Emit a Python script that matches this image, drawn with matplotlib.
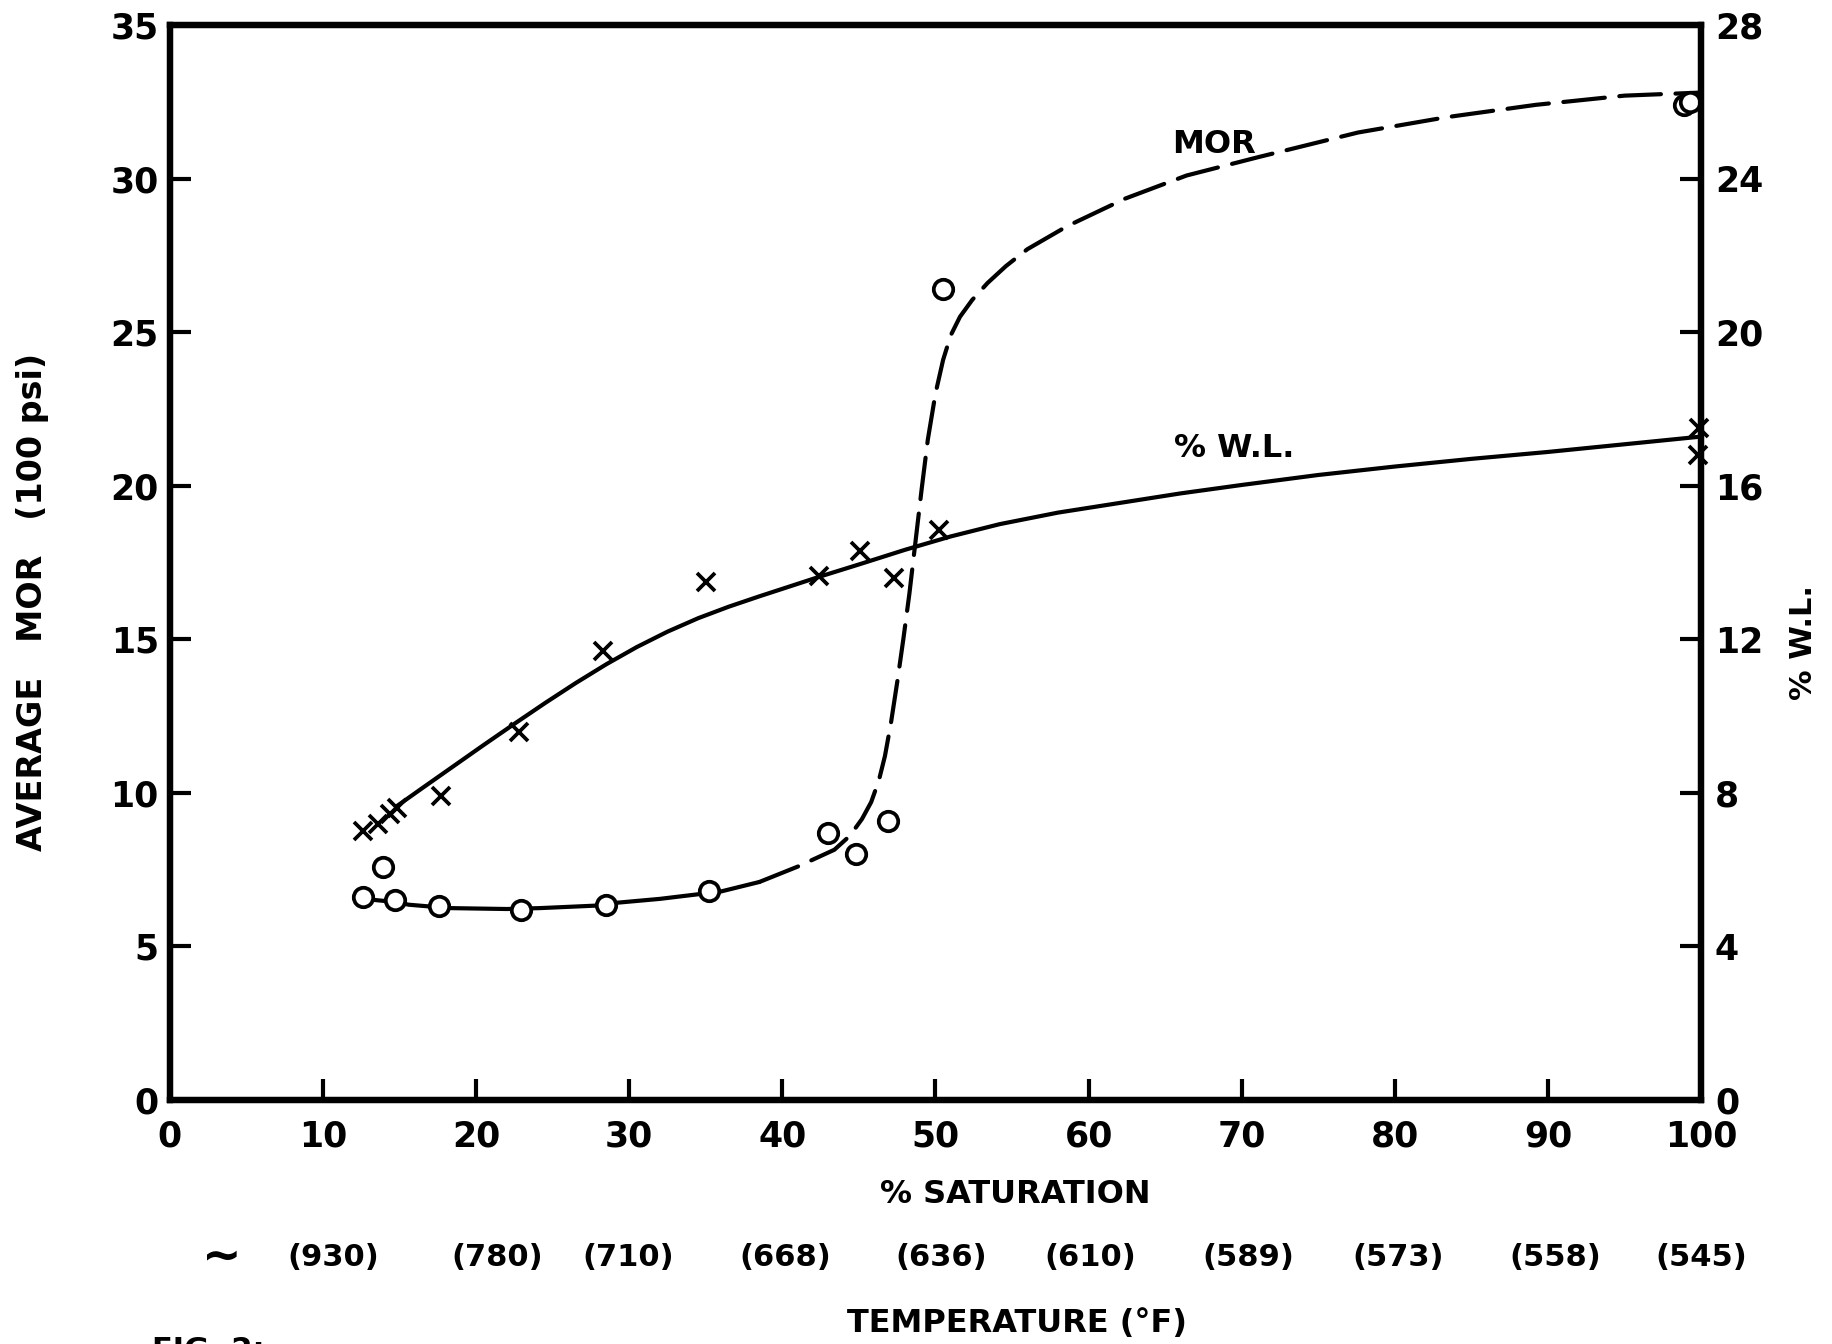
import matplotlib
matplotlib.use('Agg')
import matplotlib.pyplot as plt
import matplotlib.transforms as mtransforms

# MOR data points (open circles, left axis, 100 psi)
mor_x = [12.6, 13.9, 14.7, 17.6, 22.9, 28.5, 35.2, 43.0, 44.8, 46.9, 50.5, 98.9, 99.3]
mor_y = [6.6, 7.6, 6.5, 6.33, 6.2, 6.36, 6.8, 8.7, 8.0, 9.1, 26.4, 32.4, 32.5]

# % W.L. data points (crosses, right axis)
wl_x = [12.6, 13.6, 14.4, 14.8, 17.7, 22.8, 28.3, 35.0, 42.4, 45.1, 47.3, 50.2, 99.9, 99.8]
wl_y = [7.0, 7.2, 7.45, 7.6, 7.93, 9.58, 11.7, 13.5, 13.66, 14.3, 13.6, 14.85, 17.5, 16.8]

# hand drawn MOR curve, solid part then dashed part
mor_solid_x = [12.6, 14.7, 15.6, 18.2, 22.0, 24.2, 27.8, 29.1, 32.0, 34.5, 35.9, 38.5]
mor_solid_y = [6.55, 6.45, 6.36, 6.25, 6.22, 6.25, 6.33, 6.42, 6.55, 6.7, 6.78, 7.1]
mor_dash_x = [38.5, 41.0, 43.4, 44.4, 45.2, 45.8, 46.3, 46.7, 47.1, 47.5, 47.9, 48.3,
              48.7, 49.1, 49.5, 50.0, 50.5, 51.0, 51.6, 52.4, 53.4, 54.6, 56.0, 58.6,
              62.4, 66.4, 71.1, 77.6, 83.4, 89.2, 95.0, 100.0]
mor_dash_y = [7.1, 7.6, 8.15, 8.6, 9.15, 9.7, 10.4, 11.2, 12.3, 13.6, 15.0, 16.5,
              18.2, 19.9, 21.5, 23.0, 24.1, 24.9, 25.5, 26.05, 26.6, 27.15, 27.7, 28.45,
              29.35, 30.1, 30.7, 31.5, 32.0, 32.4, 32.7, 32.8]

# hand drawn % W.L. curve
wl_curve_x = [14.8, 16.5, 18.5, 20.5, 22.5, 24.5, 26.5, 28.5, 30.5, 32.5, 34.5, 36.5,
              38.5, 40.5, 42.5, 45.0, 48.0, 51.0, 54.2, 58.0, 62.0, 66.0, 70.0, 75.0,
              80.0, 85.0, 90.0, 95.0, 100.0]
wl_curve_y = [7.65, 8.13, 8.69, 9.25, 9.8, 10.34, 10.86, 11.35, 11.8, 12.2, 12.55, 12.85,
              13.12, 13.38, 13.64, 13.95, 14.33, 14.68, 15.0, 15.3, 15.55, 15.8, 16.02, 16.28,
              16.5, 16.7, 16.88, 17.08, 17.28]

# temperature labels under the saturation axis
temp_x = [10.7, 21.4, 29.9, 40.2, 50.4, 60.1, 70.4, 80.2, 90.5, 100.0]
temp_labels = ['(930)', '(780)', '(710)', '(668)', '(636)', '(610)', '(589)', '(573)', '(558)', '(545)']

plt.rcParams['font.family'] = ['DejaVu Sans']
plt.rcParams['font.weight'] = 'bold'

fig = plt.figure(figsize=(18.33, 13.44), dpi=100)
ax = fig.add_axes([0.0927, 0.1815, 0.8353, 0.7999])
ax2 = ax.twinx()

lw = 3.0
ax.plot(mor_solid_x, mor_solid_y, color='black', lw=lw, solid_capstyle='round',
        solid_joinstyle='round', zorder=2)
ax.plot(mor_dash_x, mor_dash_y, color='black', lw=lw, linestyle=(0, (10, 3.5)),
        dash_capstyle='round', dash_joinstyle='round', zorder=2)
ax.plot(mor_x, mor_y, linestyle='none', marker='o', markersize=14, markeredgewidth=2.7,
        markerfacecolor='white', markeredgecolor='black', zorder=4, clip_on=False)

ax2.plot(wl_curve_x, wl_curve_y, color='black', lw=lw, solid_capstyle='round',
         solid_joinstyle='round', zorder=2)
ax2.plot(wl_x, wl_y, linestyle='none', marker='x', markersize=13, markeredgewidth=2.7,
         color='black', zorder=4, clip_on=False)

ax.set_xlim(0, 100)
ax.set_ylim(0, 35)
ax2.set_ylim(0, 28)

ax.set_xticks(range(0, 101, 10))
ax.set_yticks(range(0, 36, 5))
ax2.set_yticks(range(0, 29, 4))

for a in (ax, ax2):
    for s in a.spines.values():
        s.set_linewidth(4.5)
    a.tick_params(direction='in', length=15, width=3, labelsize=25)
ax.tick_params(axis='x', pad=14, top=False)
ax.tick_params(axis='y', pad=8, right=False)
ax2.tick_params(axis='y', pad=10)

for lab in ax.get_xticklabels() + ax.get_yticklabels() + ax2.get_yticklabels():
    lab.set_fontweight('bold')

ax.text(68.2, 31.1, 'MOR', fontsize=23, fontweight='bold', ha='center', va='center')
ax.text(69.5, 21.2, '% W.L.', fontsize=23, fontweight='bold', ha='center', va='center')

fig.text(0.018, 0.552, 'AVERAGE   MOR   (100 psi)', rotation=90, fontsize=24,
         fontweight='bold', ha='center', va='center')
fig.text(0.984, 0.522, '% W.L.', rotation=90, fontsize=22, fontweight='bold',
         ha='center', va='center')
fig.text(0.554, 0.111, '% SATURATION', fontsize=23, fontweight='bold', ha='center', va='center')

trans = mtransforms.blended_transform_factory(ax.transData, fig.transFigure)
ax.text(3.4, 0.0647, '~', transform=trans, fontsize=34, fontweight='bold',
        ha='center', va='center', clip_on=False)
for tx, tl in zip(temp_x, temp_labels):
    ax.text(tx, 0.0647, tl, transform=trans, fontsize=22, fontweight='bold',
            ha='center', va='center', clip_on=False)

fig.text(0.555, 0.0155, 'TEMPERATURE (°F)', fontsize=23, fontweight='bold', ha='center', va='center')
# figure caption, only its top edge shows at the bottom of the page
fig.text(0.083, 0.006, 'FIG. 2:', fontsize=22, fontweight='bold', ha='left', va='top')

fig.savefig('out.png', dpi=100, facecolor='white')
